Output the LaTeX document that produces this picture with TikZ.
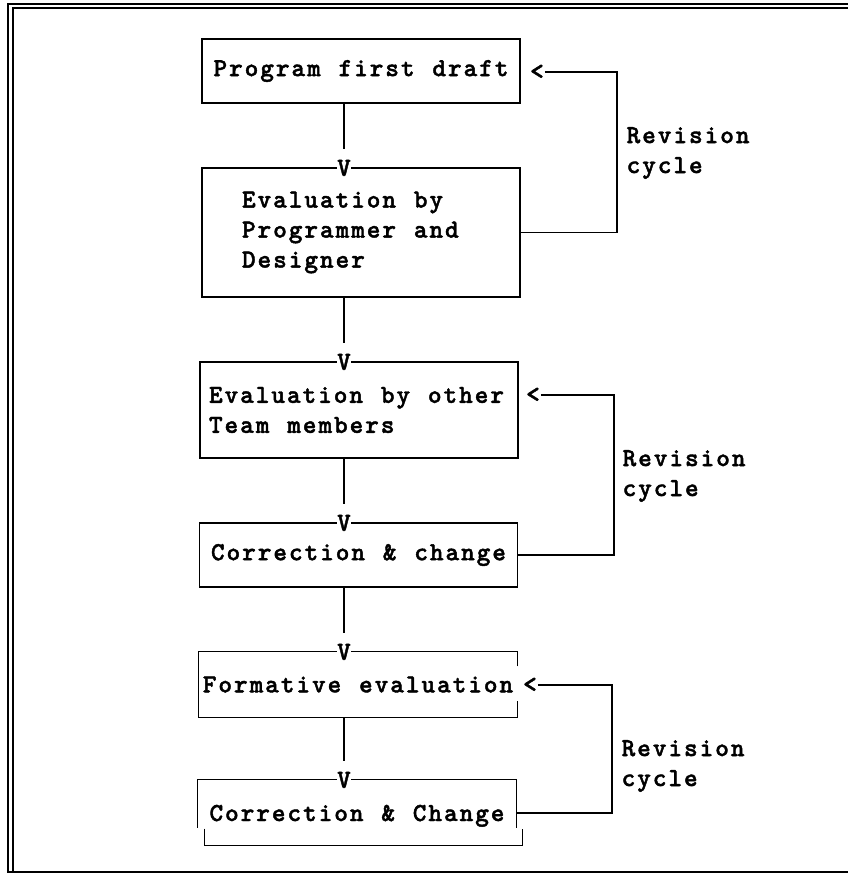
\documentclass[tikz,border=0pt]{standalone}
\usepackage{fontspec}
\newfontfamily\typew{lmmonolt10-bold.otf}[LetterSpace=7.5,WordSpace={1.143,0,0},FakeBold=1.6]
\newcommand\fixsp{\spaceskip=0pt\xspaceskip=0pt}
\usepackage{tikz}
\usetikzlibrary{calc,positioning}

\begin{document}
\begin{tikzpicture}[x=1pt,y=-1pt,line width=1.3pt,
  tw/.style={font=\typew\fontsize{26}{30}\selectfont},
  box/.style={tw,draw,minimum width=318pt,inner sep=0pt},
  tip/.style={tw,fill=white,inner sep=0.5pt},
  lbl/.style={tw,anchor=west,align=left,inner sep=0pt}]
\useasboundingbox (0,0) rectangle (848,875);
\draw[line width=1.1pt] (848,4) -- (8,4) -- (8,872) -- (848,872);
\draw[line width=1.1pt] (848,8) -- (13,8) -- (13,872);

\node[box,minimum height=64pt] (b1) at (361,71) {Program first draft};
\node[box,minimum height=129pt,text width=238pt,align=left,inner xsep=40pt] (b2) at (361,232.5) {\fixsp Evaluation by\\Programmer and\\Designer};
\node[box,minimum height=96pt,text width=300pt,align=left,inner xsep=9pt] (b3) at (359,410) {\fixsp Evaluation by other\\Team members};
\node[box,minimum height=64pt] (b4) at (358.5,555) {Correction \& change};
\node[box,draw=none,minimum height=65pt] (b5) at (358,684.5) {Formative evaluation};
\node[box,draw=none,minimum height=47pt,text height=40.5pt,text depth=5.5pt] (b6) at (357,803.5) {Correction \& Change};
\draw (b5.north east) ++(0,15) -- (b5.north east) -- (b5.north west) -- (b5.south west) -- (b5.south east) -- ++(0,-17);
\draw (b6.south west) -- (b6.north west) -- (b6.north east) -- (b6.south east);
\draw ($(b6.south west)+(7,1)$) -- ++(0,17) -| ($(b6.south east)+(6,1)$);

\node[tip] (v2) at (344,168) {V};
\node[tip] (v3) at (344,362) {V};
\node[tip] (v4) at (344,523) {V};
\node[tip] (v5) at (344,652) {V};
\node[tip] (v6) at (344,780) {V};
\foreach \a/\b in {b1/v2,b2/v3,b3/v4,b4/v5,b5/v6}
  \draw (\a.south -| \b) -- ([yshift=10pt]\b.north);

\node[tip] (l1) at (537,72) {<};
\node[tip] (l2) at (533,395) {<};
\node[tip] (l3) at (530,685) {<};
\coordinate (r1) at (617,0);
\coordinate (r2) at (614,0);
\coordinate (r3) at (612,0);
\draw (l1.east) -- (l1.east -| r1) |- (b2.east);
\draw (l2.east) -- (l2.east -| r2) |- (b4.east);
\draw (l3.east) -- (l3.east -| r3) |- ($(b6.base east)+(0,-8)$);

\node[lbl] (c1) at (626,153) {Revision\\cycle};
\node[lbl] (c2) at (622,476) {Revision\\cycle};
\node[lbl] (c3) at (621,766) {Revision\\cycle};
\end{tikzpicture}
\end{document}
